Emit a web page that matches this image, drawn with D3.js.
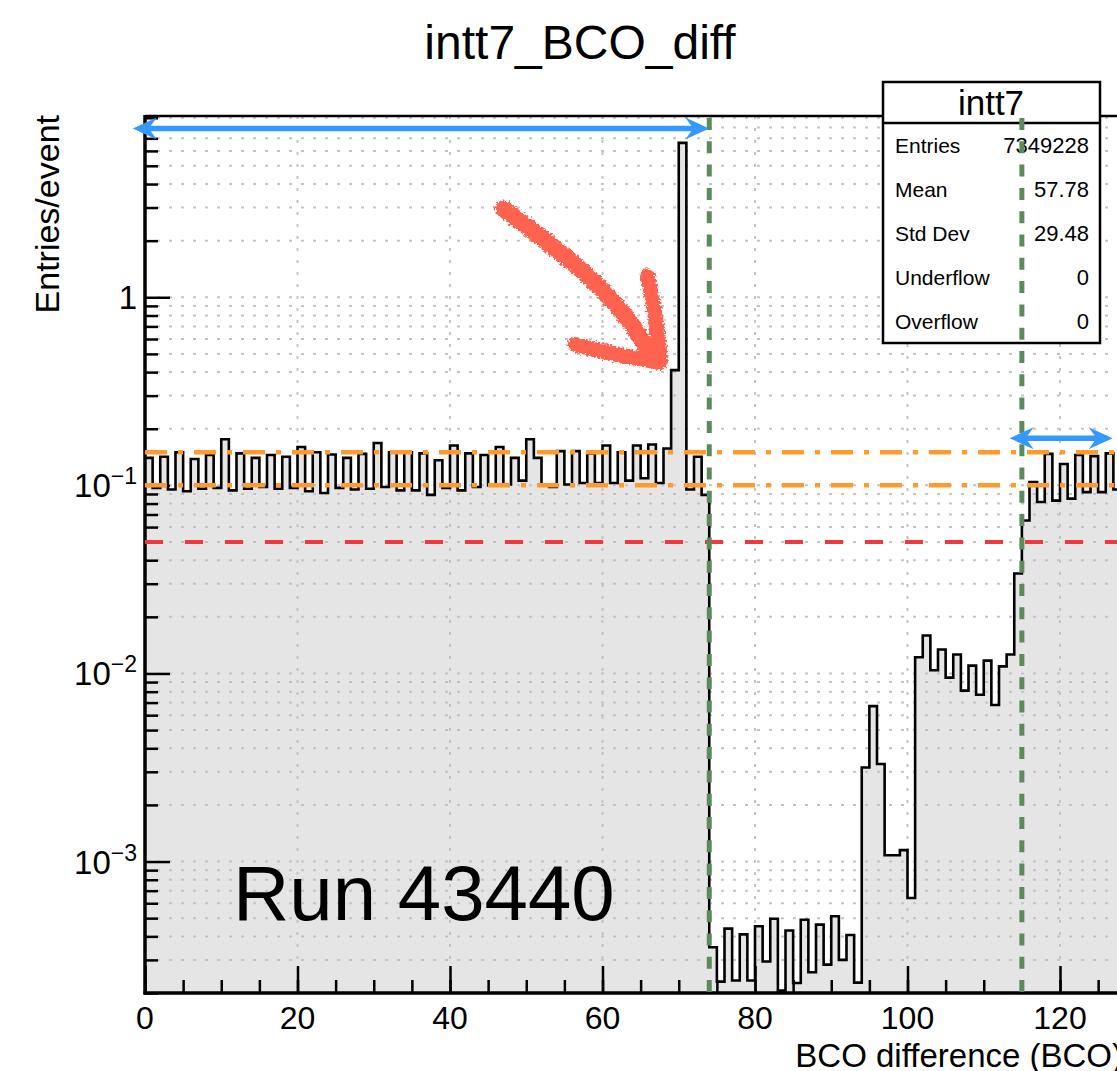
<!DOCTYPE html>
<html>
<head>
<meta charset="utf-8">
<script src="https://cdn.jsdelivr.net/npm/d3@7"></script>
<style>
  html, body { margin: 0; padding: 0; background: #ffffff; }
  svg { display: block; font-family: "Liberation Sans", Arial, Helvetica, sans-serif; }
</style>
</head>
<body>
<svg id="chart" width="1117" height="1071"></svg>
<script>
// Entries per event in each 1-BCO bin, bins 0..127
const entriesPerEvent = [
  0.140, 0.097, 0.142, 0.095, 0.150, 0.093, 0.138, 0.096, 0.145, 0.097,
  0.176, 0.094, 0.148, 0.096, 0.140, 0.098, 0.145, 0.096, 0.142, 0.097,
  0.160, 0.093, 0.150, 0.091, 0.146, 0.097, 0.140, 0.095, 0.147, 0.096,
  0.168, 0.098, 0.150, 0.094, 0.150, 0.094, 0.148, 0.089, 0.136, 0.097,
  0.163, 0.094, 0.148, 0.098, 0.145, 0.100, 0.160, 0.101, 0.140, 0.106,
  0.176, 0.140, 0.101, 0.098, 0.152, 0.101, 0.152, 0.103, 0.148, 0.103,
  0.163, 0.103, 0.150, 0.106, 0.163, 0.109, 0.165, 0.103, 0.157, 0.410,
  6.62,  0.095, 0.142, 0.089,
  3.5e-4, 2.3e-4, 4.4e-4, 2.33e-4, 4.1e-4, 2.33e-4, 4.53e-4, 2.94e-4, 4.96e-4, 2.06e-4,
  4.3e-4, 2.26e-4, 4.9e-4, 2.58e-4, 4.62e-4, 2.83e-4, 5.12e-4, 3.0e-4, 4.07e-4, 2.27e-4,
  3.16e-3, 6.7e-3, 3.3e-3, 1.08e-3, 1.08e-3, 1.15e-3, 6.4e-4,
  0.0122, 0.0159, 0.0104, 0.0134, 0.0095, 0.0126, 0.0081, 0.0110, 0.0077, 0.0117,
  0.0068, 0.0109, 0.0126, 0.034,
  0.065, 0.104, 0.0815, 0.147, 0.083, 0.130, 0.085, 0.145, 0.092, 0.143,
  0.092, 0.148, 0.095
];

const xDomain = [0, 128];
const yDomain = [2e-4, 9.2];

const xMajorTicks = [0, 20, 40, 60, 80, 100, 120];
const xMinorTicks = d3.range(0, 129, 5);
const yMajorTicks = [1e-3, 1e-2, 1e-1, 1];
const yTickBase = ["10", "10", "10", "1"];
const yTickExp = ["\u22123", "\u22122", "\u22121", ""];
const yMinorTicks = [2e-4,3e-4,4e-4,5e-4,6e-4,7e-4,8e-4,9e-4,
  2e-3,3e-3,4e-3,5e-3,6e-3,7e-3,8e-3,9e-3,
  0.02,0.03,0.04,0.05,0.06,0.07,0.08,0.09,
  0.2,0.3,0.4,0.5,0.6,0.7,0.8,0.9,
  2,3,4,5,6,7,8,9];

// Reference levels
const occupancyBand = [0.15, 0.1];      // orange dash-dot
const lowLevel = [0.05];                // red dashed
const bcoCuts = [74, 115];              // green dashed
// Double arrows: [x from, x to, y level]
const rangeArrows = [[-1.6, 74, 7.9], [113.4, 126.9, 0.178]];
// Hand-drawn pointer at the peak: shaft and head strokes, [x, y] in data units
const pointerShaft = [[47.0, 2.95], [52.5, 2.0], [58.5, 1.25], [63.5, 0.75], [66.2, 0.5]];
const pointerHeadA = [[56.4, 0.56], [61.5, 0.5], [67.5, 0.45]];
const pointerHeadB = [[65.9, 1.3], [66.9, 0.8], [67.6, 0.46]];

const statsTitle = "intt7";
const statsLabels = ["Entries", "Mean", "Std Dev", "Underflow", "Overflow"];
const statsValues = ["7349228", "57.78", "29.48", "0", "0"];

const chartTitle = "intt7_BCO_diff";
const xTitle = "BCO difference (BCO)";
const yTitle = "Entries/event";
const runLabel = "Run 43440";

// ---- layout ----
const L = 145, R = 1121, T = 116, B = 993;
const svg = d3.select("#chart");
const x = d3.scaleLinear().domain(xDomain).range([L, R]);
const y = d3.scaleLog().domain(yDomain).range([B, T]);

const defs = svg.append("defs");
defs.append("clipPath").attr("id", "frameClip")
  .append("rect").attr("x", L).attr("y", T).attr("width", R - L).attr("height", B - T);
const rough = defs.append("filter").attr("id", "rough")
  .attr("x", "-20%").attr("y", "-20%").attr("width", "140%").attr("height", "140%");
rough.append("feTurbulence").attr("type", "fractalNoise").attr("baseFrequency", 0.45)
  .attr("numOctaves", 2).attr("seed", 3).attr("result", "noise");
rough.append("feDisplacementMap").attr("in", "SourceGraphic").attr("in2", "noise")
  .attr("scale", 7).attr("xChannelSelector", "R").attr("yChannelSelector", "G");

svg.append("rect").attr("x", L).attr("y", T).attr("width", R - L).attr("height", B - T)
  .attr("fill", "#ffffff");

// histogram data as step points
const steps = entriesPerEvent.map((v, i) => ({ x: i, v }));
steps.push({ x: entriesPerEvent.length, v: entriesPerEvent[entriesPerEvent.length - 1] });

const plot = svg.append("g").attr("clip-path", "url(#frameClip)");

plot.append("path").datum(steps)
  .attr("d", d3.area().x(d => x(d.x)).y0(B).y1(d => y(d.v)).curve(d3.curveStepAfter))
  .attr("fill", "#e5e5e5");

// dotted grid
const grid = plot.append("g").attr("stroke", "#c4c4c4").attr("stroke-width", 2)
  .attr("stroke-dasharray", "3,9");
grid.selectAll("line.gx").data(xMajorTicks.filter(t => t > 0)).join("line")
  .attr("x1", d => x(d)).attr("x2", d => x(d)).attr("y1", T).attr("y2", B);
grid.selectAll("line.gy").data(yMajorTicks.concat(yMinorTicks)).join("line")
  .attr("x1", L).attr("x2", R).attr("y1", d => y(d)).attr("y2", d => y(d));

plot.append("path").datum(steps)
  .attr("d", d3.line().x(d => x(d.x)).y(d => y(d.v)).curve(d3.curveStepAfter))
  .attr("fill", "none").attr("stroke", "#000").attr("stroke-width", 2.6)
  .attr("stroke-linejoin", "miter");

// axes (ticks drawn inside the frame)
function styleAxis(g) {
  g.select(".domain").remove();
  g.selectAll(".tick line").attr("stroke", "#000").attr("stroke-width", 2.5);
  g.selectAll(".tick text").remove();
}
svg.append("g").attr("transform", `translate(0,${B})`)
  .call(d3.axisBottom(x).tickValues(xMinorTicks).tickSize(-13)).call(styleAxis);
svg.append("g").attr("transform", `translate(0,${B})`)
  .call(d3.axisBottom(x).tickValues(xMajorTicks).tickSize(-27)).call(styleAxis);
svg.append("g").attr("transform", `translate(${L},0)`)
  .call(d3.axisLeft(y).tickValues(yMinorTicks).tickSize(-13)).call(styleAxis);
svg.append("g").attr("transform", `translate(${L},0)`)
  .call(d3.axisLeft(y).tickValues(yMajorTicks).tickSize(-25)).call(styleAxis);

// frame lines
svg.append("line").attr("x1", L).attr("x2", R).attr("y1", T).attr("y2", T)
  .attr("stroke", "#000").attr("stroke-width", 2.5);
svg.append("line").attr("x1", L).attr("x2", L).attr("y1", T - 1).attr("y2", B + 1.5)
  .attr("stroke", "#000").attr("stroke-width", 3.5);
svg.append("line").attr("x1", L - 1.5).attr("x2", R).attr("y1", B).attr("y2", B)
  .attr("stroke", "#000").attr("stroke-width", 3.5);

// tick labels
svg.append("g").selectAll("text").data(xMajorTicks).join("text")
  .attr("x", d => x(d)).attr("y", 1029).attr("text-anchor", "middle")
  .attr("font-size", 32).text(d => d);
const yl = svg.append("g").selectAll("text").data(yMajorTicks).join("text")
  .attr("x", 137).attr("y", d => y(d) + 12).attr("text-anchor", "end")
  .attr("font-size", 33);
yl.append("tspan").text((d, i) => yTickBase[i]);
yl.append("tspan").attr("dy", -13).attr("font-size", 23).text((d, i) => yTickExp[i]);

// titles
svg.append("text").attr("x", 580).attr("y", 59).attr("text-anchor", "middle")
  .attr("font-size", 48).text(chartTitle);
svg.append("text").attr("x", R + 2).attr("y", 1067).attr("text-anchor", "end")
  .attr("font-size", 33).text(xTitle);
svg.append("text").attr("transform", `translate(59,${T - 1}) rotate(-90)`)
  .attr("text-anchor", "end").attr("font-size", 34).text(yTitle);

// stats box
const sb = svg.append("g");
sb.append("rect").attr("x", 883).attr("y", 82).attr("width", 217).attr("height", 261)
  .attr("fill", "#fff").attr("stroke", "#000").attr("stroke-width", 2.5);
sb.append("line").attr("x1", 883).attr("x2", 1100).attr("y1", 123).attr("y2", 123)
  .attr("stroke", "#000").attr("stroke-width", 2.5);
sb.append("text").attr("x", 991).attr("y", 115).attr("text-anchor", "middle")
  .attr("font-size", 35).text(statsTitle);
sb.selectAll("text.lab").data(statsLabels).join("text").attr("class", "lab")
  .attr("x", 895).attr("y", (d, i) => 153 + i * 44).attr("font-size", 21).text(d => d);
sb.selectAll("text.val").data(statsValues).join("text").attr("class", "val")
  .attr("x", 1089).attr("y", (d, i) => 153 + i * 44).attr("text-anchor", "end")
  .attr("font-size", 22).text(d => d);

// reference lines
const over = svg.append("g");
over.selectAll("line.band").data(occupancyBand).join("line")
  .attr("x1", L).attr("x2", R).attr("y1", d => y(d)).attr("y2", d => y(d))
  .attr("stroke", "#ff9a2e").attr("stroke-width", 4.5).attr("stroke-dasharray", "22,11,5,11");
over.selectAll("line.low").data(lowLevel).join("line")
  .attr("x1", L).attr("x2", R).attr("y1", d => y(d)).attr("y2", d => y(d))
  .attr("stroke", "#ee3a3a").attr("stroke-width", 4).attr("stroke-dasharray", "18,22");
over.selectAll("line.cut").data(bcoCuts).join("line")
  .attr("x1", d => x(d)).attr("x2", d => x(d)).attr("y1", T + 2).attr("y2", B)
  .attr("stroke", "#5b8a5b").attr("stroke-width", 5).attr("stroke-dasharray", "12,11.3");

// blue double arrows
function arrowHead(g, tipX, tipY, dir) {
  const len = 24, half = 11, notch = 8;
  const p = [[tipX, tipY], [tipX - dir * len, tipY - half], [tipX - dir * (len - notch), tipY],
             [tipX - dir * len, tipY + half]];
  g.append("path").attr("d", "M" + p.map(q => q.join(",")).join("L") + "Z").attr("fill", "#3399ff");
}
rangeArrows.forEach(([a, b, lv]) => {
  const g = svg.append("g");
  const yy = y(lv);
  g.append("line").attr("x1", x(a) + 10).attr("x2", x(b) - 10).attr("y1", yy).attr("y2", yy)
    .attr("stroke", "#3399ff").attr("stroke-width", 5.5);
  arrowHead(g, x(a), yy, -1);
  arrowHead(g, x(b), yy, 1);
});

// hand-drawn pointer
const pline = d3.line().x(d => x(d[0])).y(d => y(d[1])).curve(d3.curveCatmullRom);
const pg = svg.append("g").attr("filter", "url(#rough)").attr("fill", "none")
  .attr("stroke", "#ff6450").attr("stroke-linecap", "round").attr("stroke-linejoin", "round");
pg.append("path").attr("d", pline(pointerShaft)).attr("stroke-width", 17);
pg.append("path").attr("d", pline(pointerHeadA)).attr("stroke-width", 15);
pg.append("path").attr("d", pline(pointerHeadB)).attr("stroke-width", 15);

// run label
svg.append("text").attr("x", 233).attr("y", 920).attr("font-size", 78).text(runLabel);
</script>
</body>
</html>
